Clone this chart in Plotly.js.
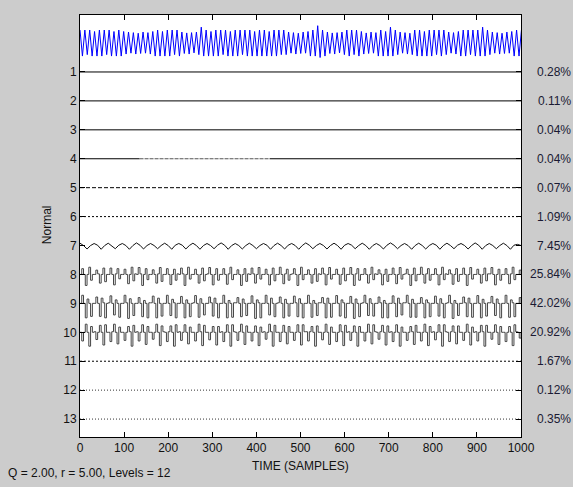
<!DOCTYPE html>
<html><head><meta charset="utf-8">
<script src="https://cdn.plot.ly/plotly-3.0.1.min.js"></script>
<style>html,body{margin:0;padding:0;background:#cccccc;}#chart{width:573px;height:487px;}</style>
</head><body><div id="chart"></div>
<script>
// ---------- data ----------
const levelTicks = [1,2,3,4,5,6,7,8,9,10,11,12,13];
const percentLabels = ['0.28%','0.11%','0.04%','0.04%','0.07%','1.09%','7.45%','25.84%','42.02%','20.92%','1.67%','0.12%','0.35%'];
const xTicks = [0,100,200,300,400,500,600,700,800,900,1000];

// original signal (level 0), one value every 5.5 samples
const signalStep = 5.5;
const signal = [
.45,-.45,.45,-.4,.45,-.45,.4,-.45,.45,-.45,
.45,-.4,.45,-.45,.4,-.45,.45,-.45,.4,-.38,
.38,-.35,.36,-.38,.34,-.36,.38,-.35,.36,-.38,
.4,-.45,.45,-.45,.4,-.45,.45,-.45,.45,-.4,
.45,-.45,.38,-.36,.35,-.38,.36,-.34,.38,-.4,
.55,-.45,.45,-.45,.4,-.45,.45,-.45,.45,-.4,
.45,-.45,.4,-.45,.45,-.45,.45,-.4,.45,-.45,
.45,-.45,.4,-.45,.45,-.45,.45,-.45,.4,-.45,
.45,-.45,.45,-.4,.45,-.4,.38,-.35,.36,-.38,
.34,-.36,.38,-.35,.4,-.45,.45,-.45,.6,-.5,
.45,-.45,.38,-.36,.35,-.38,.36,-.34,.38,-.4,
.45,-.45,.45,-.4,.45,-.45,.4,-.38,.35,-.36,
.38,-.35,.36,-.45,.45,-.45,.4,-.45,.55,-.45,
.45,-.4,.38,-.35,.36,-.38,.34,-.4,.45,-.45,
.45,-.45,.4,-.45,.45,-.45,.45,-.4,.45,-.45,
.45,-.4,.38,-.35,.36,-.38,.4,-.45,.45,-.45,
.45,-.4,.45,-.45,.45,-.45,.55,-.45,.45,-.4,
.38,-.35,.36,-.38,.34,-.36,.38,-.35,.4,-.45,
.45,-.45,.45
];

// level 7, one value every 8 samples
const level7Step = 8;
const level7 = [
.08,0,-.12,0, .07,.01,-.13,0, .08,0,-.11,.01, .07,0,-.13,0,
.09,.01,-.12,0, .07,0,-.11,0, .08,0,-.13,.01, .07,.01,-.12,0,
.08,0,-.13,0, .07,0,-.11,.01, .09,.01,-.13,0, .07,0,-.12,0,
.08,0,-.11,0, .07,.01,-.13,0, .08,0,-.12,.01, .07,0,-.13,0,
.09,.01,-.11,0, .07,0,-.12,0, .08,0,-.13,.01, .07,.01,-.11,0,
.08,0,-.13,0, .07,0,-.12,.01, .09,.01,-.11,0, .07,0,-.13,0,
.08,0,-.12,0, .07,.01,-.13,0, .08,0,-.11,.01, .07,0,-.12,0,
.09,.01,-.13,0, .07,0,-.11,0, .08,0,-.13,.01,
.04,0
];

// levels 8-10, one value every 4 samples
const spikeStep = 4;
const level8 = [
0,.2,0,-.38,0,.25,-.2,0, 0,.15,.02,-.3,0,.22,-.25,0, 0,.22,0,-.36,.02,.2,-.15,0, 0,.18,0,-.32,0,.25,-.22,.02,
0,.24,.02,-.38,0,.2,-.18,0, 0,.16,0,-.3,.02,.24,-.24,0, 0,.2,0,-.35,0,.18,-.2,.02, 0,.22,.02,-.38,0,.25,-.16,0,
0,.18,0,-.3,0,.22,-.22,0, .02,.24,0,-.36,0,.2,-.2,0, 0,.2,0,-.34,.02,.25,-.18,0, 0,.16,0,-.38,0,.2,-.24,.02,
0,.22,.02,-.3,0,.24,-.16,0, 0,.18,0,-.36,0,.22,-.22,0, 0,.25,0,-.32,.02,.18,-.2,0, .02,.2,0,-.38,0,.25,-.18,0,
0,.16,0,-.3,0,.2,-.24,.02, 0,.22,.02,-.36,0,.24,-.16,0, 0,.18,0,-.34,0,.22,-.22,0, 0,.24,0,-.38,.02,.2,-.2,0,
0,.2,0,-.3,0,.25,-.18,.02, 0,.16,.02,-.36,0,.18,-.24,0, 0,.22,0,-.32,0,.24,-.16,0, .02,.18,0,-.38,0,.22,-.22,0,
0,.25,0,-.3,.02,.2,-.2,0, 0,.2,0,-.36,0,.25,-.18,.02, 0,.16,.02,-.34,0,.2,-.24,0, 0,.22,0,-.38,0,.24,-.16,0,
0,.18,0,-.3,0,.22,-.22,.02, .02,.24,0,-.36,0,.18,-.2,0, 0,.2,0,-.32,.02,.25,-.18,0,
0,.15,0
];
const level9 = [
0,.28,0,-.5,.15,0,-.45,0, 0,.22,0,-.45,.18,.02,-.5,0, .02,.26,0,-.4,.12,0,-.48,0, 0,.28,.02,-.52,.16,0,-.42,0,
0,.2,0,-.46,.1,0,-.5,.02, .02,.25,0,-.5,.18,0,-.44,0, 0,.28,0,-.42,.14,.02,-.5,0, 0,.24,0,-.5,.12,0,-.46,0,
.02,.27,0,-.48,.16,0,-.4,0, 0,.22,.02,-.44,.18,0,-.5,0, 0,.28,0,-.5,.1,0,-.48,.02, .02,.2,0,-.46,.15,0,-.42,0,
0,.26,0,-.52,.12,.02,-.5,0, 0,.28,0,-.4,.18,0,-.46,0, .02,.22,0,-.5,.14,0,-.44,0, 0,.25,.02,-.46,.16,0,-.5,0,
0,.28,0,-.48,.1,0,-.42,.02, .02,.2,0,-.5,.18,0,-.48,0, 0,.27,0,-.44,.12,.02,-.5,0, 0,.24,0,-.52,.15,0,-.46,0,
.02,.28,0,-.42,.16,0,-.44,0, 0,.22,.02,-.5,.1,0,-.5,0, 0,.26,0,-.46,.18,0,-.4,.02, .02,.28,0,-.48,.14,0,-.48,0,
0,.2,0,-.5,.12,.02,-.46,0, 0,.25,0,-.44,.16,0,-.5,0, .02,.28,0,-.52,.1,0,-.42,0, 0,.22,.02,-.46,.18,0,-.48,0,
0,.27,0,-.5,.14,0,-.44,.02, .02,.24,0,-.42,.15,0,-.5,0, 0,.28,0,-.48,.12,.02,-.46,0,
0,.2,0
];
const level10 = [
0,-.3,0,.28,0,-.48,.2,0, .02,-.25,0,.24,0,-.44,.26,0, 0,-.32,.02,.28,0,-.4,.18,0, 0,-.28,0,.2,.02,-.48,.24,0,
.02,-.3,0,.26,0,-.42,.2,0, 0,-.24,0,.28,0,-.46,.22,.02, 0,-.32,.02,.22,0,-.48,.26,0, .02,-.28,0,.26,0,-.4,.18,0,
0,-.3,0,.28,.02,-.46,.24,0, 0,-.26,0,.2,0,-.44,.2,0, .02,-.32,0,.26,0,-.48,.26,.02, 0,-.28,.02,.28,0,-.42,.22,0,
0,-.3,0,.22,0,-.46,.18,0, .02,-.24,0,.28,.02,-.48,.24,0, 0,-.32,0,.24,0,-.4,.2,0, 0,-.28,0,.26,0,-.44,.26,.02,
.02,-.3,.02,.2,0,-.48,.22,0, 0,-.26,0,.28,0,-.42,.18,0, 0,-.32,0,.26,.02,-.46,.24,0, .02,-.28,0,.22,0,-.48,.2,0,
0,-.3,0,.28,0,-.4,.26,.02, 0,-.24,.02,.24,0,-.44,.22,0, .02,-.32,0,.26,0,-.48,.18,0, 0,-.28,0,.2,.02,-.42,.24,0,
0,-.3,0,.28,0,-.46,.2,0, .02,-.26,0,.26,0,-.48,.26,.02, 0,-.32,.02,.22,0,-.4,.22,0, 0,-.28,0,.28,0,-.44,.18,0,
.02,-.3,0,.24,.02,-.48,.24,0, 0,-.24,0,.26,0,-.42,.2,0, 0,-.32,0,.2,0,-.46,.26,.02,
0,-.2,0
];

// near-flat levels (amplitude too small to see)
const flatLevels = [1,2,3,5,6,11,12,13];
const flatX = [0,1000];
const flatValues = [0,0];
const level4X = [0,135,430,1000];
const level4Values = [0,0,0,0];

// ---------- styles ----------
const flatDash = {1:'solid',2:'solid',3:'solid',5:'4px,2px',6:'2px,2px',11:'2px,2px',12:'1px,2px',13:'1px,2px'};
const flatColor = {1:'#000',2:'#000',3:'#000',5:'#000',6:'#000',11:'#000',12:'#333',13:'#333'};

const traces = [];
function offset(level, vals){ return vals.map(v => level - v); }

traces.push({type:'scatter', mode:'lines', x0:0, dx:signalStep, y:offset(0, signal),
  line:{color:'#0000ff', width:1}, hoverinfo:'skip'});
traces.push({type:'scatter', mode:'lines', x0:0, dx:level7Step, y:offset(7, level7),
  line:{color:'#111', width:1}, hoverinfo:'skip'});
[[8,level8],[9,level9],[10,level10]].forEach(([lv, arr]) => {
  traces.push({type:'scatter', mode:'lines', x0:0, dx:spikeStep, y:offset(lv, arr),
    line:{color:'#444', width:1, shape:'hv'}, hoverinfo:'skip'});
});
flatLevels.forEach(lv => {
  traces.push({type:'scatter', mode:'lines', x:flatX, y:offset(lv, flatValues),
    line:{color:flatColor[lv], width:1, dash:flatDash[lv]}, hoverinfo:'skip'});
});
// level 4: solid, with a broken middle part
const l4y = offset(4, level4Values);
traces.push({type:'scatter', mode:'lines', x:[level4X[0],level4X[1],null,level4X[2],level4X[3]],
  y:[l4y[0],l4y[1],null,l4y[2],l4y[3]], line:{color:'#000', width:1}, hoverinfo:'skip'});
traces.push({type:'scatter', mode:'lines', x:[level4X[1],level4X[2]], y:[l4y[1],l4y[2]],
  line:{color:'#555', width:1, dash:'4px,1px'}, hoverinfo:'skip'});

const font = {family:'Liberation Sans, Arial, sans-serif', size:12, color:'#111'};
const annotations = percentLabels.map((t,i) => ({
  text:t, xref:'paper', x:1, xanchor:'right', xshift:52, yref:'y', y:levelTicks[i],
  yanchor:'middle', showarrow:false, font:{family:font.family, size:12, color:'#1a1a33'}
}));
annotations.push({text:'Normal', xref:'paper', x:(47-80)/441, yref:'paper', y:0.502,
  textangle:-90, showarrow:false, xanchor:'center', yanchor:'middle', font:font});
annotations.push({text:'TIME (SAMPLES)', xref:'paper', x:0.5, yref:'paper', y:(437-466)/422,
  showarrow:false, xanchor:'center', yanchor:'middle', font:font});
annotations.push({text:'Q = 2.00, r = 5.00, Levels = 12', xref:'paper', x:(6-80)/441, yref:'paper', y:(437-473)/422,
  showarrow:false, xanchor:'left', yanchor:'middle', font:font});

const layout = {
  width:573, height:487,
  margin:{l:80, r:52, t:15, b:50},
  paper_bgcolor:'#cccccc', plot_bgcolor:'#ffffff',
  showlegend:false, font:font,
  xaxis:{range:[0,1000], tickvals:xTicks, ticktext:xTicks.map(String), ticks:'inside', ticklen:5,
    tickcolor:'#000', showline:true, linecolor:'#000', linewidth:1, mirror:'ticks',
    showgrid:false, zeroline:false, fixedrange:true},
  yaxis:{range:[13.62,-0.97], tickvals:levelTicks, ticktext:levelTicks.map(String), ticks:'inside', ticklen:5,
    tickcolor:'#000', showline:true, linecolor:'#000', linewidth:1, mirror:'ticks',
    showgrid:false, zeroline:false, fixedrange:true},
  annotations:annotations
};
Plotly.newPlot('chart', traces, layout, {staticPlot:true, displayModeBar:false});
</script></body></html>
